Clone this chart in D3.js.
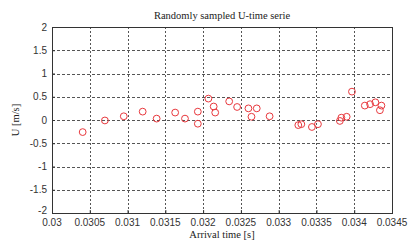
<!DOCTYPE html>
<html>
<head>
<meta charset="utf-8">
<script src="https://cdn.jsdelivr.net/npm/d3@7"></script>
<style>
  body { margin: 0; background: #fff; }
  svg { display: block; }
  .tick-label { font-family: "Liberation Sans", Arial, sans-serif; font-size: 10px; fill: #333; }
  .lbl { font-family: "Liberation Serif", "Times New Roman", serif; font-size: 10.5px; fill: #222; }
</style>
</head>
<body>
<svg id="canvas"></svg>
<script>
// arrival times [s] and sampled U [m/s]
let times = [0.030406, 0.03070, 0.03095, 0.03120, 0.031385, 0.03163, 0.03176, 0.03193, 0.03193,
    0.03207, 0.03214, 0.03216, 0.032345, 0.03245, 0.03260, 0.03264, 0.03271, 0.03288,
    0.03326, 0.03330, 0.03344, 0.03352, 0.03381, 0.03383, 0.03390, 0.03397,
    0.03414, 0.03421, 0.03428, 0.03436, 0.03434]
let uValues = [-0.26, -0.01, 0.08, 0.18, 0.03, 0.16, 0.03, 0.18, -0.08,
    0.46, 0.29, 0.16, 0.40, 0.28, 0.25, 0.07, 0.25, 0.08,
    -0.11, -0.09, -0.15, -0.09, -0.02, 0.05, 0.07, 0.61,
    0.31, 0.34, 0.38, 0.31, 0.21]

let xTicks = [0.03, 0.0305, 0.031, 0.0315, 0.032, 0.0325, 0.033, 0.0335, 0.034, 0.0345]
let yTicks = [-2, -1.5, -1, -0.5, 0, 0.5, 1, 1.5, 2]

const width = 408;
const height = 241;
const mLeft = 52, mRight = 392, mTop = 27, mBottom = 213;

let canvas = d3.select('#canvas').attr('width', width).attr('height', height);

let xScale = d3.scaleLinear().domain([0.03, 0.0345]).range([mLeft, mRight]);
let yScale = d3.scaleLinear().domain([-2, 2]).range([mBottom, mTop]);

// grid
canvas.append('g')
    .selectAll('line')
    .data(xTicks.slice(1, -1))
    .enter()
    .append('line')
    .attr('x1', d => Math.round(xScale(d)) + 0.5)
    .attr('x2', d => Math.round(xScale(d)) + 0.5)
    .attr('y1', mTop)
    .attr('y2', mBottom)
    .attr('stroke', '#555')
    .attr('stroke-dasharray', '2,2')

canvas.append('g')
    .selectAll('line')
    .data(yTicks.slice(1, -1))
    .enter()
    .append('line')
    .attr('y1', d => Math.round(yScale(d)) + 0.5)
    .attr('y2', d => Math.round(yScale(d)) + 0.5)
    .attr('x1', mLeft)
    .attr('x2', mRight)
    .attr('stroke', '#555')
    .attr('stroke-dasharray', '3,2')

// axes (ticks inside, like matlab)
let xAxis = d3.axisTop(xScale).tickValues(xTicks).tickSize(3).tickFormat('')
let yAxis = d3.axisRight(yScale).tickValues(yTicks).tickSize(3).tickFormat('')
canvas.append('g').attr('transform', 'translate(0,' + mBottom + ')').call(xAxis)
canvas.append('g').attr('transform', 'translate(' + mLeft + ',0)').call(yAxis)
canvas.selectAll('.domain').remove()
canvas.selectAll('.tick line').attr('stroke', '#333')

canvas.append('rect')
    .attr('x', mLeft + 0.5)
    .attr('y', mTop + 0.5)
    .attr('width', mRight - mLeft)
    .attr('height', mBottom - mTop)
    .attr('fill', 'none')
    .attr('stroke', '#333')

// tick labels
canvas.selectAll('text.xt')
    .data(xTicks)
    .enter()
    .append('text')
    .attr('class', 'tick-label xt')
    .attr('x', d => xScale(d))
    .attr('y', mBottom + 13)
    .attr('text-anchor', 'middle')
    .text(d => +d.toFixed(4))

canvas.selectAll('text.yt')
    .data(yTicks)
    .enter()
    .append('text')
    .attr('class', 'tick-label yt')
    .attr('x', mLeft - 5)
    .attr('y', d => yScale(d) + 3.5 - (d === -2 ? 3 : 0))
    .attr('text-anchor', 'end')
    .text(d => d)

// titles
canvas.append('text')
    .attr('class', 'lbl')
    .attr('x', (mLeft + mRight) / 2)
    .attr('y', 19)
    .attr('text-anchor', 'middle')
    .text('Randomly sampled U-time serie')

canvas.append('text')
    .attr('class', 'lbl')
    .attr('x', (mLeft + mRight) / 2)
    .attr('y', 238)
    .attr('text-anchor', 'middle')
    .text('Arrival time [s]')

canvas.append('text')
    .attr('class', 'lbl')
    .attr('transform', 'translate(19,' + yScale(0) + ') rotate(-90)')
    .attr('text-anchor', 'middle')
    .text('U [m/s]')

// points
canvas.append('g')
    .selectAll('circle')
    .data(times)
    .enter()
    .append('circle')
    .attr('cx', (d) => xScale(d))
    .attr('cy', (d, i) => yScale(uValues[i]))
    .attr('r', 3.4)
    .attr('fill', 'none')
    .attr('stroke', '#e8383d')
    .attr('stroke-width', 1)
</script>
</body>
</html>
